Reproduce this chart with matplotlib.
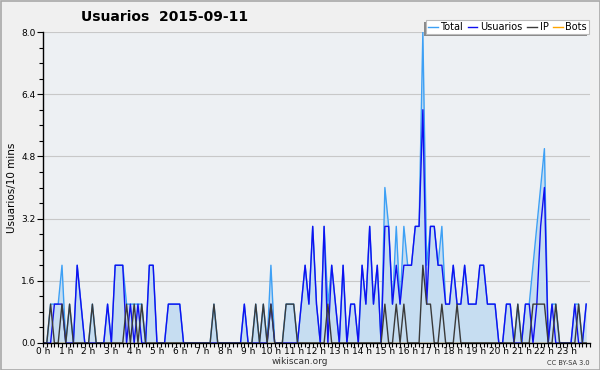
import matplotlib
matplotlib.use("Agg")
import matplotlib.pyplot as plt
from matplotlib.patches import Rectangle
from matplotlib.ticker import MultipleLocator
import numpy as np

title = "Usuarios  2015-09-11"
ylabel = "Usuarios/10 mins"
hour_labels = [f"{h} h" for h in range(24)]
yticks = [0.0, 1.6, 3.2, 4.8, 6.4, 8.0]

# values per 10-minute slot (144 slots)
total = [0,0,1,1,1,2, 0,1,0,2,1,0, 0,1,0,0,0,1, 0,2,2,2,1,1,
         1,1,1,0,2,2, 0,0,0,1,1,1, 1,0,0,0,0,0, 0,0,0,1,0,0,
         0,0,0,0,0,1, 0,0,1,0,1,0, 2,0,0,0,1,1, 1,0,1,2,1,3,
         1,0,3,1,2,1, 0,2,0,1,1,0, 2,1,3,1,2,0, 4,3,1,3,1,3,
         2,2,3,3,8,2, 3,3,2,3,1,1, 2,1,1,2,1,1, 1,2,2,1,1,1,
         0,0,1,1,0,1, 0,1,1,2,3,4, 5,0,1,1,0,0, 0,0,1,1,0,1]
usuarios = [0,0,0,1,1,1, 0,0,0,2,1,0, 0,0,0,0,0,1, 0,2,2,2,0,1,
            0,1,0,0,2,2, 0,0,0,1,1,1, 1,0,0,0,0,0, 0,0,0,0,0,0,
            0,0,0,0,0,1, 0,0,0,0,0,0, 1,0,0,0,0,0, 0,0,1,2,1,3,
            1,0,3,0,2,1, 0,2,0,1,1,0, 2,1,3,1,2,0, 3,3,1,2,1,2,
            2,2,3,3,6,1, 3,3,2,2,1,1, 2,1,1,2,1,1, 1,2,2,1,1,1,
            0,0,1,1,0,0, 0,1,1,0,1,3, 4,0,1,0,0,0, 0,0,1,0,0,1]
ip = [0,0,1,0,0,1, 0,1,0,0,0,0, 0,1,0,0,0,0, 0,0,0,0,1,0,
      1,0,1,0,0,0, 0,0,0,0,0,0, 0,0,0,0,0,0, 0,0,0,1,0,0,
      0,0,0,0,0,0, 0,0,1,0,1,0, 1,0,0,0,1,1, 1,0,0,0,0,0,
      0,0,0,1,0,0, 0,0,0,0,0,0, 0,0,0,0,0,0, 1,0,0,1,0,1,
      0,0,0,0,2,1, 1,0,0,1,0,0, 0,1,0,0,0,0, 0,0,0,0,0,0,
      0,0,0,0,0,1, 0,0,0,1,1,1, 1,0,0,1,0,0, 0,0,0,1,0,0]
bots = [0] * 144

c_total = "#3da0f5"
c_fill = "#c6ddf1"
c_users = "#1010f0"
c_ip = "#3a3a3a"
c_bots = "#ffa500"

fig = plt.figure(figsize=(6, 3.7), dpi=100, facecolor="#f0f0f0")
ax = fig.add_axes([43/600, 1-343/370, (590-43)/600, (343-32)/370])
ax.set_facecolor("#edf0f3")

x = np.arange(len(total)) / 6.0
ax.fill_between(x, total, 0, color=c_fill, lw=0, zorder=1)
lt, = ax.plot(x, total, color=c_total, lw=1.0, zorder=2, label="Total")
lu, = ax.plot(x, usuarios, color=c_users, lw=1.0, zorder=3, label="Usuarios")
li, = ax.plot(x, ip, color=c_ip, lw=1.0, zorder=4, label="IP")
lb, = ax.plot(x, bots, color=c_bots, lw=1.0, zorder=1.5, label="Bots")

ax.set_xlim(0, 24)
ax.set_ylim(0, 8.0)
ax.set_yticks(yticks)
ax.set_yticklabels([f"{v:.1f}" for v in yticks])
ax.yaxis.set_minor_locator(MultipleLocator(0.4))
ax.set_xticks(range(24))
ax.set_xticklabels(hour_labels)
ax.xaxis.set_minor_locator(MultipleLocator(1/6))
ax.tick_params(axis="y", which="major", direction="out", length=4, width=0.8,
               labelsize=6.5, pad=1.5, colors="black")
ax.tick_params(axis="x", which="major", direction="out", length=3, width=0.8,
               labelsize=6.5, pad=0, colors="black")
ax.tick_params(axis="both", which="minor", direction="out", length=3, width=0.8)
ax.grid(axis="y", color="#c8c8c8", lw=0.8, zorder=0)
ax.set_axisbelow(True)
for s in ["top", "right"]:
    ax.spines[s].set_visible(False)
for s in ["left", "bottom"]:
    ax.spines[s].set_linewidth(1.0)
    ax.spines[s].set_zorder(6)

ax.set_ylabel(ylabel, fontsize=7.5, labelpad=3)
fig.text(165/600, 1-17/370, title, fontsize=10, fontweight="bold", ha="center", va="center")
fig.text(300/600, 1-362/370, "wikiscan.org", fontsize=6.5, ha="center", va="center", color="#333333")
fig.text(590/600, 1-363/370, "CC BY-SA 3.0", fontsize=4.8, ha="right", va="center", color="#333333")

leg = fig.legend(handles=[lt, lu, li, lb], loc="upper right",
                 bbox_to_anchor=(589/600, 1-20/370), ncol=4, fontsize=7,
                 frameon=True, fancybox=False, handlelength=1.0, handletextpad=0.3,
                 columnspacing=0.45, borderpad=0.2, borderaxespad=0)
leg.get_frame().set_facecolor("white")
leg.get_frame().set_edgecolor("#bbbbbb")
leg.get_frame().set_linewidth(0.8)
leg.get_frame().set_alpha(1)
leg.set_zorder(10)

fig.canvas.draw()
bb = leg.get_window_extent()
W, H = fig.bbox.width, fig.bbox.height
fig.patches.append(Rectangle(((bb.x0-2)/W, (bb.y0-2)/H), bb.width/W, bb.height/H,
                             transform=fig.transFigure, facecolor="#8a8a8a",
                             edgecolor="none", zorder=9))
fig.patches.append(Rectangle((0.5/600, 0.5/370), 599/600, 369/370, transform=fig.transFigure,
                             facecolor="none", edgecolor="#a8a8a8", lw=1.2, zorder=20))

fig.savefig("out.png", dpi=100, facecolor=fig.get_facecolor())
